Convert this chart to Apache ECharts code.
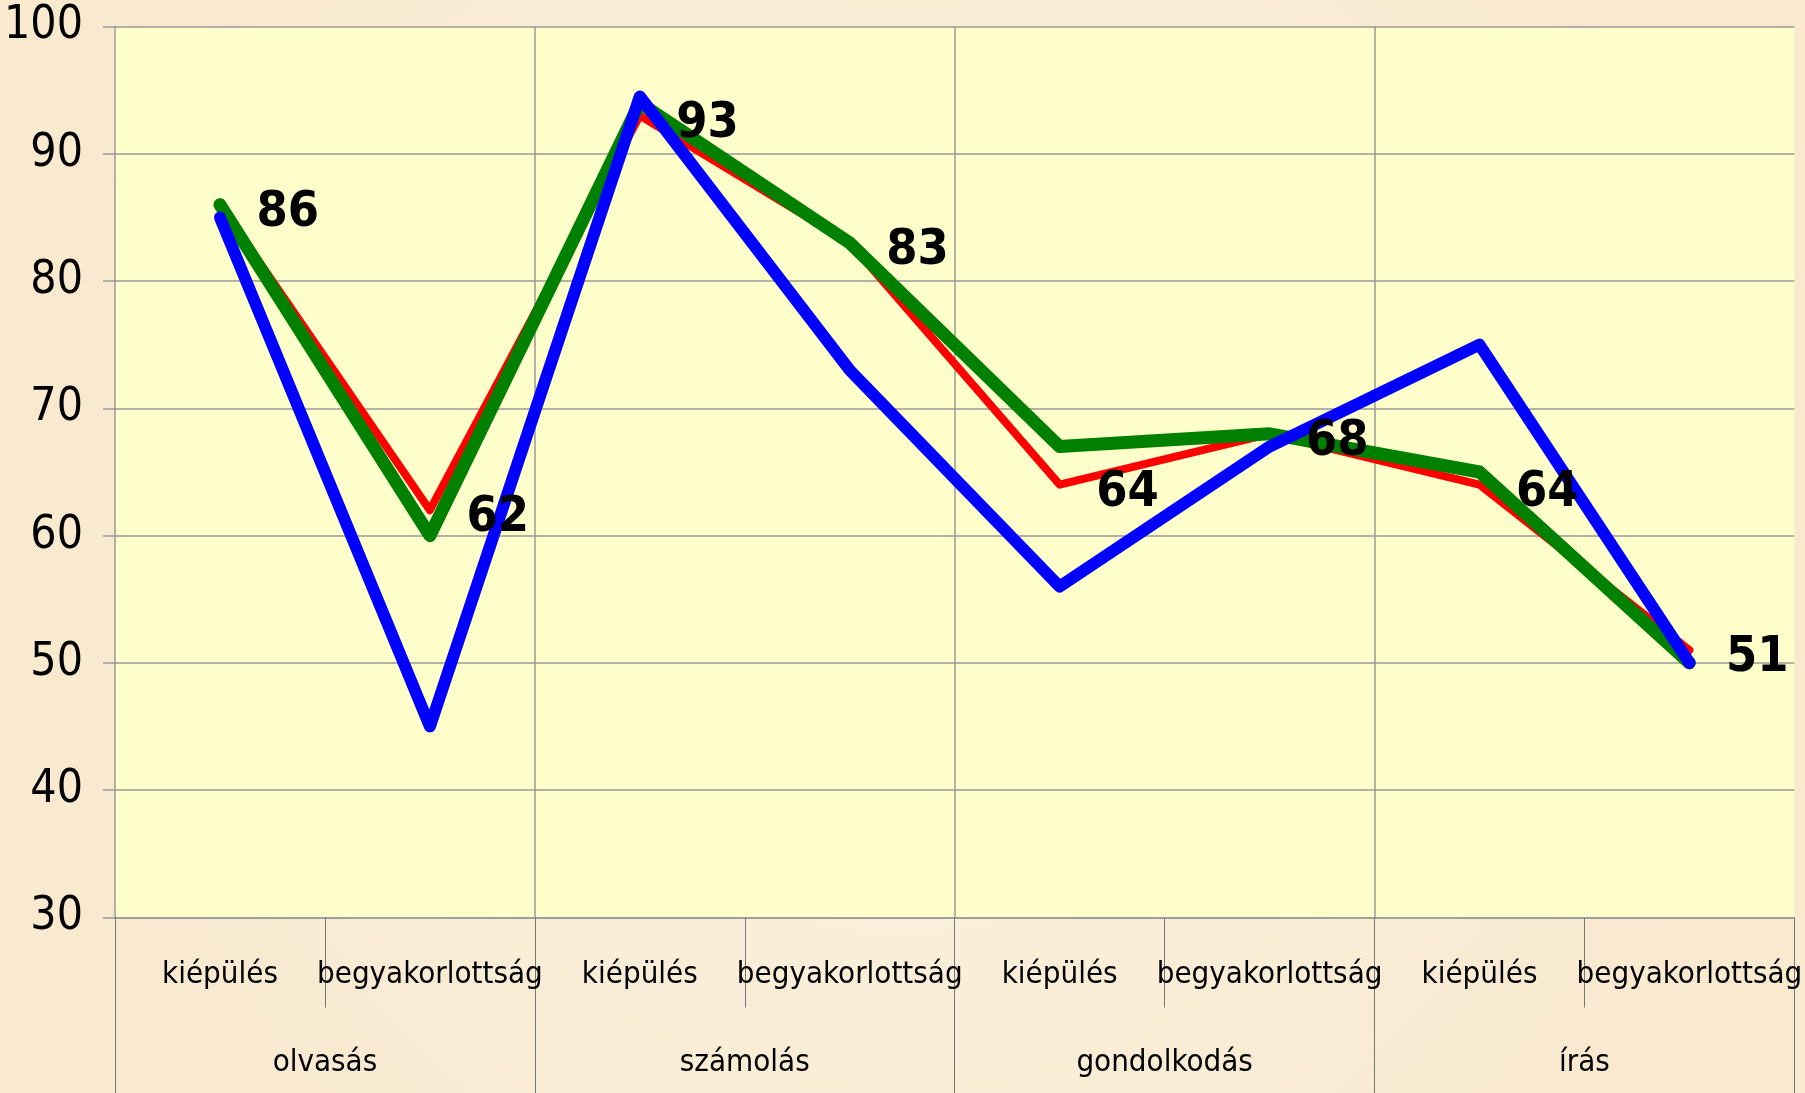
<!DOCTYPE html>
<html><head><meta charset="utf-8">
<script src="https://cdn.jsdelivr.net/npm/echarts@6/dist/echarts.min.js"></script>
<style>html,body{margin:0;padding:0;background:#FBF0DC;}#c{width:1805px;height:1093px;}</style>
</head><body><div id="c"></div>
<script>
const subCategories = ['kiépülés','begyakorlottság','kiépülés','begyakorlottság','kiépülés','begyakorlottság','kiépülés','begyakorlottság'];
const groups = ['olvasás','számolás','gondolkodás','írás'];
const redValues = [86, 62, 93, 83, 64, 68, 64, 51];
const greenValues = [86, 60, 94, 83, 67, 68, 65, 50];
const blueValues = [85, 45, 94.5, 73, 56, 67, 75, 50];
const yMin = 30, yMax = 100, yStep = 10;

const FONT = "'DejaVu Sans Condensed', 'Liberation Sans Narrow', 'Liberation Sans', sans-serif";
const chart = echarts.init(document.getElementById('c'), null, {renderer:'canvas'});
chart.setOption({
  backgroundColor: {
    type:'radial', x:0.5, y:0.5, r:0.8,
    colorStops:[{offset:0,color:'#FCF3E2'},{offset:1,color:'#F8E9CF'}]
  },
  animation:false,
  grid:{left:115, right:6, top:26.5, bottom:175.5, show:true, backgroundColor:'#FFFFCC', borderWidth:0},
  xAxis:[
    {type:'category', data:subCategories, boundaryGap:true, position:'bottom',
     axisLine:{show:true, lineStyle:{color:'#999', width:1.5}},
     axisTick:{show:true, interval:0, length:90, lineStyle:{color:'#777', width:1}},
     axisLabel:{interval:0, margin:42, fontFamily:FONT, fontSize:31, color:'#000'},
     splitLine:{show:false}},
    {type:'category', data:groups, boundaryGap:true, position:'bottom',
     axisLine:{show:false},
     axisTick:{show:true, interval:0, length:176, lineStyle:{color:'#777', width:1}},
     axisLabel:{interval:0, margin:130, fontFamily:FONT, fontSize:31, color:'#000'},
     splitLine:{show:true, showMinLine:false, showMaxLine:false, interval:0, lineStyle:{color:'#999', width:1.5}}}
  ],
  yAxis:{type:'value', min:yMin, max:yMax, interval:yStep,
    axisLine:{show:true, lineStyle:{color:'#999', width:1.5}},
    axisTick:{show:true, length:12, lineStyle:{color:'#999', width:1.5}},
    axisLabel:{margin:32, fontFamily:FONT, fontSize:46, color:'#000'},
    splitLine:{show:true, lineStyle:{color:'#999', width:1.5}}},
  series:[
    {type:'line', name:'red', data:redValues, xAxisIndex:0, symbol:'none', z:2,
     lineStyle:{color:'#FF0000', width:8, cap:'round', join:'round'}},
    {type:'line', name:'green', data:greenValues, xAxisIndex:0, symbol:'none', z:3,
     lineStyle:{color:'#008000', width:13, cap:'round', join:'round'}},
    {type:'line', name:'blue', data:blueValues, xAxisIndex:0, symbol:'none', z:4,
     lineStyle:{color:'#0000FF', width:12, cap:'round', join:'round'}},
    {type:'line', name:'labels', data:redValues, xAxisIndex:0, symbol:'circle', symbolSize:1, showSymbol:true, z:10,
     silent:true, itemStyle:{color:'rgba(0,0,0,0)'}, lineStyle:{opacity:0},
     label:{show:true, position:'right', distance:36, offset:[0,8], fontFamily:FONT, fontWeight:'bold', fontSize:50, color:'#000'}}
  ]
});
</script></body></html>
